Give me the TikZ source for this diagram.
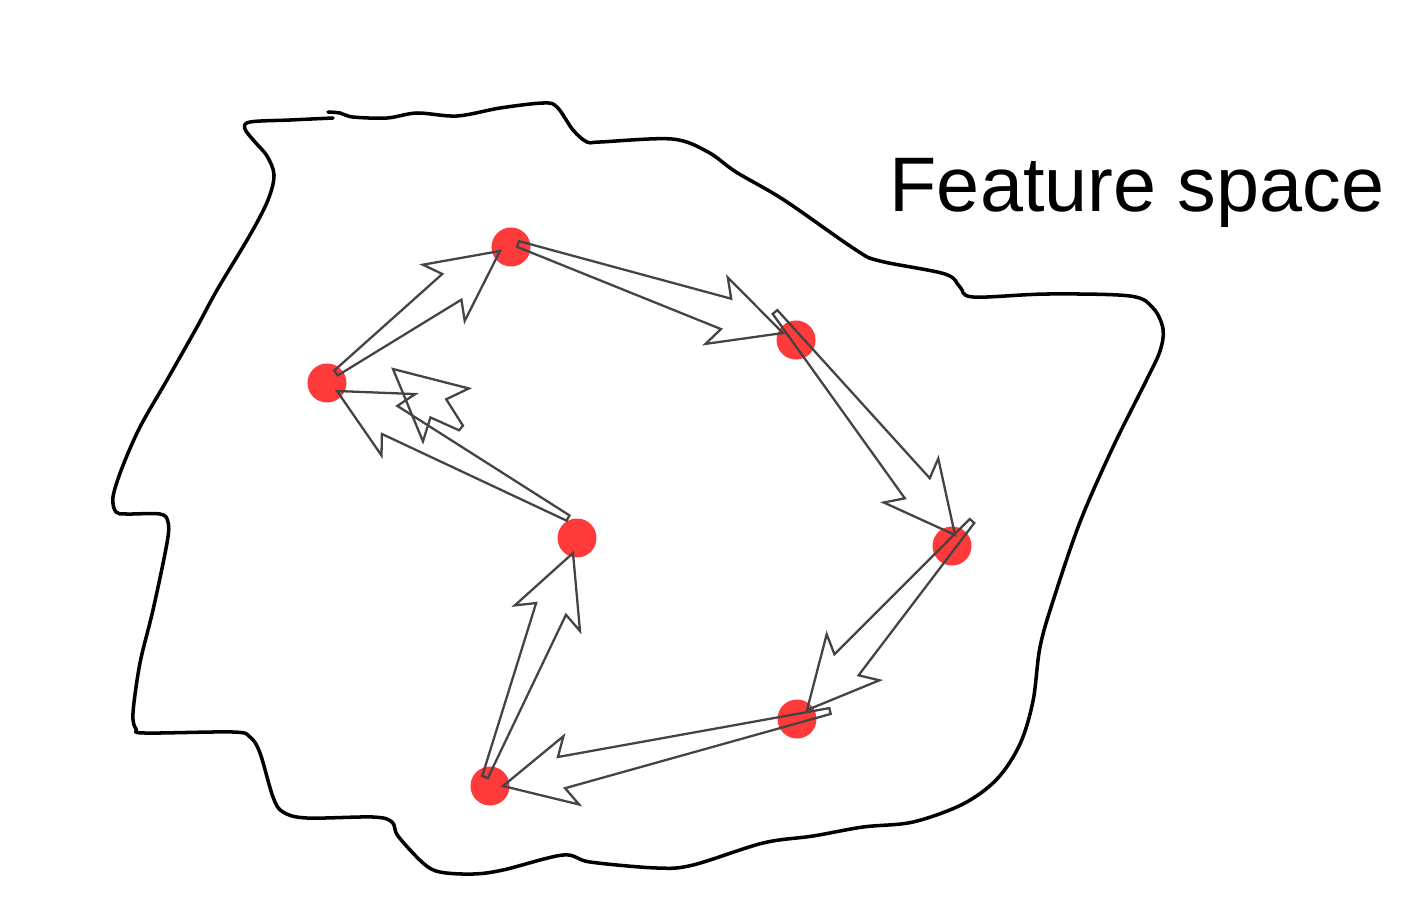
\documentclass[tikz,border=0pt]{standalone}
\usepackage{fontspec}
\usepackage{xcolor}
\usetikzlibrary{calc}
\newfontfamily\labelfont{Liberation Sans}
\definecolor{dotred}{RGB}{255,58,58}
\definecolor{arrowgray}{RGB}{68,68,68}
\tikzset{
  dot/.style={circle, fill=dotred, inner sep=0pt, minimum size=0.39cm},
  outline/.style={line width=1pt, black, line cap=round, line join=round},
  flow/.style={line width=0.65pt, arrowgray}
}
\newcommand{\flowarrow}[3][0.16cm]{%
  \path (#2) coordinate (fa-s) (#3) coordinate (fa-e);
  \draw[flow] ($(fa-s)!0.03cm!90:(fa-e)$)
    -- ($(fa-e)!0.6cm!(fa-s)!#1!-90:(fa-s)$)
    -- ($(fa-e)!0.7cm!(fa-s)!0.35cm!-90:(fa-s)$)
    -- (fa-e)
    -- ($(fa-e)!0.7cm!(fa-s)!0.35cm!90:(fa-s)$)
    -- ($(fa-e)!0.6cm!(fa-s)!#1!90:(fa-s)$)
    -- ($(fa-s)!0.03cm!-90:(fa-e)$) -- cycle;}

\begin{document}
\begin{tikzpicture}[x=0.01cm, y=-0.01cm]
        \useasboundingbox (0,0) rectangle (1428,918);
        \draw[outline] plot[smooth, tension=0.55] coordinates {
          (333,118) (290,120) (250,122) (245,129) (255,142) (267,156) (274,175)
          (268,200) (250,235) (217,290) (197,327) (167,380) (140,427) (122,468)
          (113,497) (116,512) (127,514) (160,514) (168,522) (167,543) (153,610)
          (140,663) (133,713) (136,729) (145,733) (233,732) (250,737) (260,753)
          (273,797) (283,812) (307,818) (373,817) (392,822) (398,836) (423,863)
          (440,872) (473,874) (503,870) (563,855) (590,862) (657,868) (693,865)
          (763,843) (813,836) (863,827) (913,822) (963,804) (997,779) (1020,744)
          (1033,701) (1040,647) (1053,601) (1080,522) (1113,447) (1147,379)
          (1160,351) (1163,329) (1153,308) (1130,296) (1047,294) (973,297)
          (960,287) (945,274) (880,261) (856,250) (784,200) (736,172) (708,152)
          (672,139) (600,142) (587,142) (573,130) (557,107) (543,103) (500,108)
          (457,116) (417,113) (387,118) (353,117) (340,113) (328,112)};
        \node[anchor=base west, inner sep=0pt] (title) at (889,211)
          {\labelfont\fontsize{22}{26}\selectfont Feature space};
        \node[dot] (p1) at (327,383) {};
        \node[dot] (p2) at (511,247) {};
        \node[dot] (p3) at (796,340) {};
        \node[dot] (p4) at (952,546) {};
        \node[dot] (p5) at (797,719) {};
        \node[dot] (p6) at (490,786) {};
        \node[dot] (p7) at (577,538) {};
        \flowarrow{$(p1)+(9,-10)$}{$(p2)+(-11,4)$}
        \flowarrow{$(p2)+(7,-3)$}{$(p3)+(-13,-7)$}
        \flowarrow{$(p3)+(-21,-28)$}{$(p4)+(3,-11)$}
        \flowarrow{$(p4)+(20,-25)$}{$(p5)+(10,-9)$}
        \flowarrow{$(p5)+(33,-8)$}{$(p6)+(13,0)$}
        \flowarrow{$(p6)+(-5,-9)$}{$(p7)+(-4,15)$}
        \flowarrow{$(p7)+(-9,-20)$}{$(p1)+(10,8)$}
        \coordinate (back) at (461,428);
        \flowarrow[0.12cm]{back}{$(p1)+(66,-14)$}
\end{tikzpicture}
\end{document}
